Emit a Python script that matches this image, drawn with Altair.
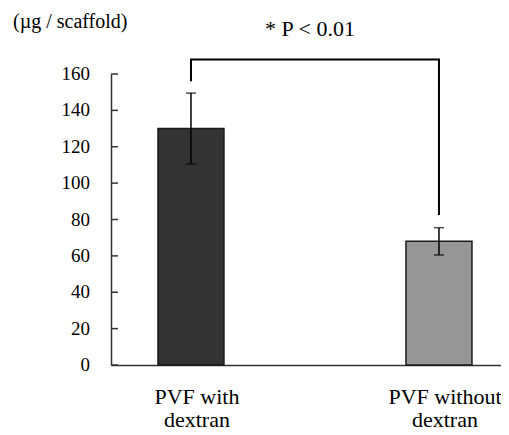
import altair as alt
import pandas as pd

# ---- data ----
categories = ["PVF with dextran", "PVF without dextran"]
x_labels = ["PVF with\ndextran", "PVF without\ndextran"]
means = [130, 68]
errors = [19.5, 7.5]
bar_colors = ["#333333", "#969696"]
y_ticks = [0, 20, 40, 60, 80, 100, 120, 140, 160]
y_unit = ["(µg / scaffold)"]
sig_text = ["* P < 0.01"]
# bracket: left leg bottom, top, right leg bottom (data units)
bracket_left_bottom = 156
bracket_top = 168
bracket_right_bottom = 82.5

FONT = "Liberation Serif, Times New Roman, DejaVu Serif, serif"

bars_df = pd.DataFrame({
    "cat": categories,
    "lab": x_labels,
    "val": means,
    "lo": [m - e for m, e in zip(means, errors)],
    "hi": [m + e for m, e in zip(means, errors)],
})
caps_df = pd.DataFrame({
    "cat": categories + categories,
    "v": list(bars_df["lo"]) + list(bars_df["hi"]),
})
bracket_df = pd.DataFrame({
    "cat": [categories[0], categories[0], categories[1], categories[1]],
    "v": [bracket_left_bottom, bracket_top, bracket_top, bracket_right_bottom],
    "o": [0, 1, 2, 3],
})
ticks_df = pd.DataFrame({"v": y_ticks})
sig_df = pd.DataFrame({"t": sig_text})
unit_df = pd.DataFrame({"t": y_unit})

x_scale = alt.Scale(domain=categories, paddingInner=0.734, paddingOuter=0.1533, align=0.618)
y_scale = alt.Scale(domain=[0, 160], nice=False, zero=True)

x_axis = alt.Axis(title=None, labels=False, ticks=False, grid=False,
                  domainColor="#333333", domainWidth=1.5)
y_axis = alt.Axis(title=None, labels=False, ticks=False, grid=False, values=y_ticks,
                  domainColor="#333333", domainWidth=1.5)

bars = alt.Chart(bars_df).mark_bar(stroke="#1a1a1a", strokeWidth=1.5).encode(
    x=alt.X("cat:N", scale=x_scale, axis=x_axis, sort=categories),
    y=alt.Y("val:Q", scale=y_scale, axis=y_axis),
    color=alt.Color("cat:N", scale=alt.Scale(domain=categories, range=bar_colors), legend=None),
)

err = alt.Chart(bars_df).mark_rule(color="black", strokeWidth=1.5).encode(
    x=alt.X("cat:N", sort=categories),
    y=alt.Y("lo:Q"),
    y2="hi:Q",
)

caps = alt.Chart(caps_df).mark_tick(color="black", size=10, thickness=1.5).encode(
    x=alt.X("cat:N", sort=categories),
    y=alt.Y("v:Q"),
)

bracket = alt.Chart(bracket_df).mark_line(color="black", strokeWidth=2, clip=False).encode(
    x=alt.X("cat:N", sort=categories),
    y=alt.Y("v:Q"),
    order="o:Q",
)

yticks = alt.Chart(ticks_df).mark_rule(color="#333333", strokeWidth=1.5).encode(
    x=alt.value(0), x2=alt.value(7),
    y=alt.Y("v:Q"),
)

ylabels = alt.Chart(ticks_df).mark_text(
    font=FONT, fontSize=19, color="black", align="right", baseline="middle", dx=-21
).encode(
    x=alt.value(0), y=alt.Y("v:Q"), text=alt.Text("v:Q"),
)

xlabels = alt.Chart(bars_df).mark_text(
    font=FONT, fontSize=22, color="black", align="center", baseline="top",
    lineBreak="\n", lineHeight=23, dx=6
).encode(
    x=alt.X("cat:N", sort=categories), y=alt.value(313), text="lab:N",
)

unit = alt.Chart(unit_df).mark_text(
    font=FONT, fontSize=20, color="black", align="left", baseline="alphabetic"
).encode(
    x=alt.value(-98), y=alt.value(-46), text="t:N",
)

sig = alt.Chart(sig_df).mark_text(
    font=FONT, fontSize=22, color="black", align="center", baseline="alphabetic"
).encode(
    x=alt.value(199), y=alt.value(-38), text="t:N",
)

chart = alt.layer(bars, err, caps, yticks, bracket, ylabels, xlabels, unit, sig).properties(
    width=390, height=291,
    background="white",
    autosize=alt.AutoSizeParams(type="none"),
    padding={"left": 103, "top": 66, "right": 0, "bottom": 70},
).configure_view(stroke=None)

chart.save("out.html", embed_options={"renderer": "svg", "actions": False})
